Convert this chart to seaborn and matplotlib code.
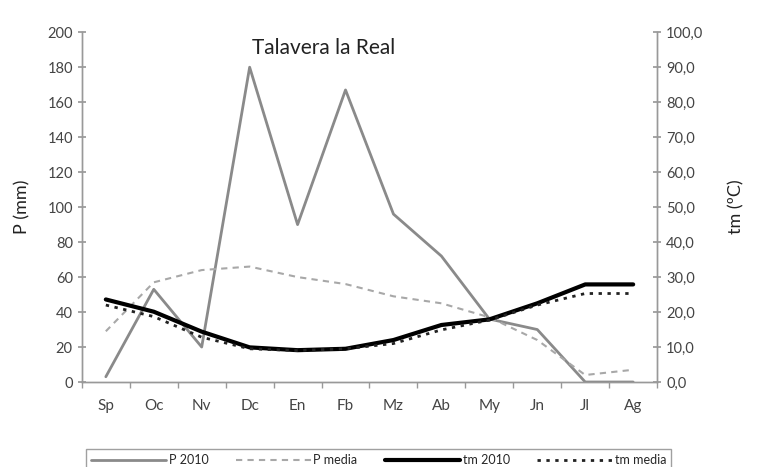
import seaborn as sns
import matplotlib.pyplot as plt
import matplotlib.ticker as mticker
import pandas as pd

# meses del año hidrológico
meses = ['Sp', 'Oc', 'Nv', 'Dc', 'En', 'Fb', 'Mz', 'Ab', 'My', 'Jn', 'Jl', 'Ag']
p_2010 = [3, 53, 20, 180, 90, 167, 96, 72, 36, 30, 0, 0]
p_media = [29, 57, 64, 66, 60, 56, 49, 45, 37, 24, 4, 7]
tm_2010 = [23.6, 20.1, 14.4, 9.9, 9.1, 9.5, 12.0, 16.3, 17.9, 22.5, 27.9, 27.9]
tm_media = [22.0, 18.7, 12.8, 9.5, 9.0, 9.5, 11.0, 14.9, 17.7, 22.0, 25.3, 25.3]

sns.set_theme(style="white")
plt.rcParams['font.family'] = ['Lato', 'DejaVu Sans']

df = pd.DataFrame({'mes': meses, 'P 2010': p_2010, 'P media': p_media,
                   'tm 2010': tm_2010, 'tm media': tm_media})
x = list(range(len(meses)))

fig = plt.figure(figsize=(7.65, 4.67), dpi=100)
ax = fig.add_axes([0.107, 0.182, 0.752, 0.749])
ax2 = ax.twinx()

sns.lineplot(x=x, y=df['P 2010'], ax=ax, color='#8a8a8a', lw=2, label='P 2010', legend=False)
sns.lineplot(x=x, y=df['P media'], ax=ax, color='#a8a8a8', lw=1.5, ls=(0, (3, 2.5)), label='P media', legend=False)
sns.lineplot(x=x, y=df['tm 2010'], ax=ax2, color='black', lw=3, label='tm 2010', legend=False)
sns.lineplot(x=x, y=df['tm media'], ax=ax2, color='#222222', lw=2, ls=(0, (1.2, 2)), label='tm media', legend=False)

ax.set_xlim(-0.5, 11.5)
ax.set_ylim(0, 200)
ax2.set_ylim(0, 100)
ax.set_yticks(range(0, 201, 20))
ax2.set_yticks(range(0, 101, 10))
ax2.yaxis.set_major_formatter(mticker.FuncFormatter(lambda v, p: f'{v:.1f}'.replace('.', ',')))

ax.set_xticks(x)
ax.set_xticklabels(meses)
ax.xaxis.set_minor_locator(mticker.FixedLocator([i + 0.5 for i in range(-1, 12)]))
ax.tick_params(axis='x', which='major', length=0, pad=12, labelsize=11, colors='#444444')
ax.tick_params(axis='x', which='minor', length=4, direction='out', color='#999999', bottom=True)
ax.tick_params(axis='y', length=6, direction='inout', color='#999999', labelsize=10.5,
               labelcolor='#444444', left=True)
ax2.tick_params(axis='y', length=6, direction='inout', color='#999999', labelsize=10.5,
                labelcolor='#444444', right=True)

for a in (ax, ax2):
    a.spines['top'].set_visible(False)
    for s in ('left', 'right', 'bottom'):
        a.spines[s].set_color('#999999')
        a.spines[s].set_linewidth(1)
ax.set_xlabel('')
ax.set_ylabel('P (mm)', fontsize=13, labelpad=12, color='#222222')
ax2.set_ylabel('tm (ºC)', fontsize=13, labelpad=18, color='#222222')
ax.text(0.42, 0.955, 'Talavera la Real', transform=ax.transAxes, ha='center', va='center',
        fontsize=15, color='#222222')

h1, l1 = ax.get_legend_handles_labels()
h2, l2 = ax2.get_legend_handles_labels()
leg = fig.legend(h1 + h2, l1 + l2, loc='upper center', bbox_to_anchor=(0.495, 0.052), ncol=4,
                 fontsize=9, handlelength=6, handletextpad=0.2, columnspacing=2.2,
                 frameon=True, fancybox=False, edgecolor='#888888', borderpad=0.4)

fig.savefig('out.png', dpi=100)
